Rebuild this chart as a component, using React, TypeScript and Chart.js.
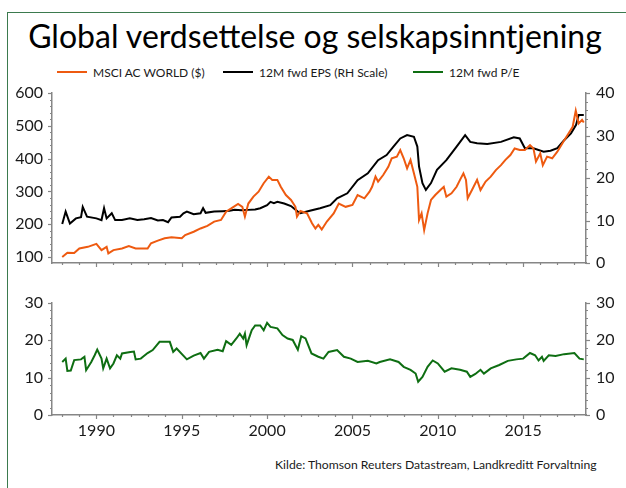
import React, { useEffect, useRef } from 'react';
import { Chart, registerables } from 'chart.js';

Chart.register(...registerables);

// ---- Data ----
const msciYears = [1988.0, 1988.3, 1988.7, 1989.0, 1989.5, 1990.0, 1990.3, 1990.6, 1990.7, 1991.0, 1991.5, 1991.9, 1992.3, 1992.7, 1993.0, 1993.2, 1993.6, 1994.0, 1994.4, 1995.0, 1995.2, 1995.7, 1996.1, 1996.5, 1996.9, 1997.3, 1997.6, 1997.9, 1998.3, 1998.55, 1998.7, 1998.9, 1999.2, 1999.5, 1999.8, 2000.1, 2000.3, 2000.6, 2000.8, 2001.1, 2001.4, 2001.66, 2001.75, 2001.95, 2002.34, 2002.63, 2002.83, 2003.0, 2003.2, 2003.5, 2003.9, 2004.2, 2004.6, 2005.0, 2005.3, 2005.7, 2006.0, 2006.15, 2006.35, 2006.5, 2006.8, 2007.1, 2007.3, 2007.6, 2007.8, 2008.0, 2008.2, 2008.4, 2008.6, 2008.8, 2008.9, 2009.05, 2009.2, 2009.4, 2009.6, 2009.85, 2010.15, 2010.35, 2010.5, 2010.8, 2011.1, 2011.3, 2011.5, 2011.65, 2011.75, 2012.0, 2012.3, 2012.5, 2012.8, 2013.1, 2013.4, 2013.7, 2013.96, 2014.25, 2014.5, 2014.8, 2015.1, 2015.4, 2015.6, 2015.75, 2016.0, 2016.15, 2016.4, 2016.7, 2017.0, 2017.3, 2017.6, 2017.9, 2018.08, 2018.25, 2018.45, 2018.55];
const msciValues = [100, 113, 112, 126, 131, 140, 121, 131, 111, 121, 126, 133, 126, 126, 126, 142, 150, 157, 160, 157, 167, 177, 187, 195, 208, 213, 238, 248, 262, 253, 223, 263, 284, 299, 325, 345, 335, 335, 314, 289, 274, 253, 223, 240, 233, 203, 187, 198, 184, 208, 233, 263, 253, 259, 289, 279, 299, 314, 345, 330, 350, 375, 401, 406, 426, 401, 370, 396, 355, 314, 213, 233, 182, 233, 274, 289, 304, 314, 284, 294, 314, 335, 355, 335, 279, 304, 335, 304, 330, 345, 365, 380, 396, 411, 431, 426, 426, 441, 431, 391, 416, 380, 406, 401, 421, 447, 472, 497, 546, 507, 518, 510];

const epsYears = [1988.0, 1988.2, 1988.45, 1988.8, 1989.1, 1989.2, 1989.45, 1990.0, 1990.3, 1990.45, 1990.6, 1990.9, 1991.1, 1991.5, 1991.96, 1992.4, 1992.8, 1993.2, 1993.6, 1993.9, 1994.2, 1994.4, 1994.9, 1995.1, 1995.3, 1995.7, 1996.1, 1996.25, 1996.4, 1996.9, 1997.4, 1997.8, 1998.1, 1998.5, 1998.9, 1999.3, 1999.6, 2000.0, 2000.2, 2000.4, 2000.6, 2001.0, 2001.4, 2001.8, 2001.95, 2002.5, 2003.1, 2003.7, 2004.1, 2004.7, 2005.3, 2005.9, 2006.5, 2007.0, 2007.4, 2007.8, 2008.2, 2008.6, 2008.8, 2008.9, 2009.1, 2009.3, 2009.6, 2009.95, 2010.5, 2011.1, 2011.6, 2011.9, 2012.3, 2012.9, 2013.7, 2014.45, 2014.8, 2015.1, 2015.6, 2016.2, 2016.6, 2017.0, 2017.4, 2017.8, 2018.1, 2018.25, 2018.55];
const epsValues = [9.2, 12.1, 9.3, 10.5, 10.8, 13.2, 10.9, 10.5, 10.1, 12.9, 10.5, 11.7, 10.1, 10.1, 10.5, 10.1, 10.3, 10.6, 10.0, 10.1, 9.6, 10.7, 10.9, 11.7, 12.1, 11.5, 11.7, 12.9, 11.8, 12.1, 12.2, 12.3, 12.5, 12.4, 12.5, 12.6, 12.9, 13.6, 14.4, 14.1, 14.4, 14.0, 13.4, 12.1, 11.7, 12.3, 12.9, 13.6, 15.2, 16.4, 19.5, 21.1, 24.2, 25.4, 27.4, 29.3, 30.1, 29.7, 27.4, 22.7, 18.8, 17.2, 18.8, 21.9, 24.2, 27.4, 30.1, 28.5, 28.2, 28.0, 28.5, 29.6, 29.3, 27.0, 27.0, 26.2, 26.4, 27.0, 28.9, 30.5, 32.5, 34.8, 34.8];

const peYears = [1988.0, 1988.2, 1988.3, 1988.5, 1988.7, 1989.1, 1989.3, 1989.4, 1989.7, 1989.9, 1990.05, 1990.3, 1990.4, 1990.6, 1990.8, 1991.0, 1991.2, 1991.4, 1991.5, 1991.99, 1992.2, 1992.3, 1992.6, 1993.0, 1993.3, 1993.7, 1994.3, 1994.5, 1994.7, 1995.3, 1995.7, 1996.1, 1996.3, 1996.6, 1997.1, 1997.4, 1997.6, 1997.9, 1998.2, 1998.4, 1998.6, 1998.7, 1998.8, 1999.1, 1999.3, 1999.6, 1999.8, 2000.0, 2000.2, 2000.6, 2000.9, 2001.2, 2001.5, 2001.8, 2002.0, 2002.25, 2002.6, 2003.0, 2003.3, 2003.6, 2004.1, 2004.5, 2004.9, 2005.3, 2005.9, 2006.4, 2006.6, 2007.2, 2007.7, 2008.0, 2008.4, 2008.7, 2008.85, 2009.1, 2009.4, 2009.7, 2010.0, 2010.4, 2010.8, 2011.3, 2011.7, 2011.9, 2012.2, 2012.5, 2012.7, 2013.1, 2013.6, 2014.1, 2014.6, 2015.0, 2015.4, 2015.7, 2015.9, 2016.1, 2016.2, 2016.5, 2016.9, 2017.4, 2018.0, 2018.3, 2018.55];
const peValues = [14.2, 15.1, 11.8, 11.9, 14.7, 14.9, 15.6, 12.0, 14.2, 16.0, 17.5, 15.1, 12.5, 15.1, 12.5, 13.8, 16.0, 15.1, 16.5, 16.9, 17.0, 14.9, 15.1, 16.6, 17.4, 19.6, 19.6, 16.9, 17.8, 14.9, 15.9, 16.6, 15.1, 16.9, 17.5, 17.1, 19.8, 18.8, 20.5, 21.8, 20.5, 21.8, 18.7, 22.7, 24.0, 24.0, 22.7, 24.7, 23.6, 23.2, 21.4, 20.5, 20.1, 17.5, 21.1, 20.5, 16.5, 15.6, 15.1, 16.9, 17.4, 15.6, 15.1, 14.2, 14.5, 13.8, 14.2, 14.9, 14.2, 12.9, 12.1, 11.1, 8.9, 10.2, 12.9, 14.6, 13.8, 11.6, 12.5, 12.1, 11.6, 10.2, 11.0, 12.1, 11.1, 12.5, 13.4, 14.5, 14.9, 15.1, 16.6, 16.0, 14.6, 15.6, 14.5, 16.0, 15.8, 16.3, 16.6, 15.1, 14.9];

const xTickYears = [1990, 1995, 2000, 2005, 2010, 2015];
const msciTicks = [100, 200, 300, 400, 500, 600];
const epsTicks = [0, 10, 20, 30, 40];
const peTicks = [0, 10, 20, 30];

const titleText = 'Global verdsettelse og selskapsinntjening';
const legendLabels = ['MSCI AC WORLD ($)', '12M fwd EPS (RH Scale)', '12M fwd P/E'];
const sourceText = 'Kilde: Thomson Reuters Datastream, Landkreditt Forvaltning';

// ---- Styles ----
const ORANGE = '#EE5A10';
const BLACK = '#000000';
const GREEN = '#0E6E12';
const AXIS = '#868686';
const TEXT = '#1a1a1a';
const FONT = 'Lato, "Open Sans", sans-serif';
const X_MIN = 1987.4;
const X_MAX = 2018.68;

const toPoints = (xs: number[], ys: number[]) => xs.map((x, i) => ({ x, y: ys[i] }));

const tickMarksPlugin = {
  id: 'tickMarks',
  afterDraw(chart: any, _args: any, opts: any) {
    const ctx = chart.ctx;
    ctx.save();
    ctx.strokeStyle = AXIS;
    ctx.lineWidth = 1.2;
    for (const spec of opts.specs || []) {
      const scale = chart.scales[spec.id];
      if (!scale) continue;
      const n = Math.round((spec.to - spec.from) / spec.step);
      for (let i = 0; i <= n; i++) {
        const v = spec.from + i * spec.step;
        const r = v / spec.major;
        const isMajor = Math.abs(r - Math.round(r)) < 1e-6;
        const len = isMajor ? 4 : 2;
        const p = Math.round(scale.getPixelForValue(v)) + 0.5;
        ctx.beginPath();
        if (scale.isHorizontal()) {
          const y = scale.top;
          ctx.moveTo(p, y);
          ctx.lineTo(p, y + len);
        } else if (scale.position === 'left') {
          const x = scale.right;
          ctx.moveTo(x, p);
          ctx.lineTo(x - len, p);
        } else {
          const x = scale.left;
          ctx.moveTo(x, p);
          ctx.lineTo(x + len, p);
        }
        ctx.stroke();
      }
    }
    ctx.restore();
  },
};

const yAxisBase = (position: 'left' | 'right', min: number, max: number, ticks: number[], width: number) => ({
  type: 'linear',
  position,
  min,
  max,
  afterBuildTicks: (s: any) => {
    s.ticks = ticks.map((v) => ({ value: v }));
  },
  afterFit: (s: any) => {
    s.width = width;
    s.paddingTop = 0;
    s.paddingBottom = 0;
  },
  grid: { display: false, drawTicks: false },
  border: { display: true, color: AXIS, width: 1.5 },
  ticks: {
    color: TEXT,
    font: { family: FONT, size: 16 },
    padding: position === 'left' ? 9 : 10,
    callback: (v: any) => String(v),
  },
});

const xAxis = (showLabels: boolean, height: number) => ({
  type: 'linear',
  position: 'bottom',
  min: X_MIN,
  max: X_MAX,
  afterBuildTicks: (s: any) => {
    s.ticks = xTickYears.map((v) => ({ value: v }));
  },
  afterFit: (s: any) => {
    s.height = height;
  },
  grid: { display: false, drawTicks: false },
  border: { display: true, color: AXIS, width: 1.5 },
  ticks: {
    display: showLabels,
    color: TEXT,
    font: { family: FONT, size: 16 },
    padding: 6,
    maxRotation: 0,
    autoSkip: false,
    callback: (v: any) => String(v),
  },
});

export default function App() {
  const topRef = useRef<HTMLCanvasElement | null>(null);
  const botRef = useRef<HTMLCanvasElement | null>(null);

  useEffect(() => {
    const common = {
      responsive: false,
      maintainAspectRatio: false,
      animation: false,
      devicePixelRatio: 1,
      events: [],
    };
    const top = new Chart(topRef.current as HTMLCanvasElement, {
      type: 'line',
      data: {
        datasets: [
          {
            label: legendLabels[0],
            data: toPoints(msciYears, msciValues),
            borderColor: ORANGE,
            borderWidth: 2,
            pointRadius: 0,
            yAxisID: 'yL',
            order: 1,
          },
          {
            label: legendLabels[1],
            data: toPoints(epsYears, epsValues),
            borderColor: BLACK,
            borderWidth: 2,
            pointRadius: 0,
            yAxisID: 'yR',
            order: 2,
          },
        ],
      },
      options: {
        ...common,
        layout: { padding: { left: 8, right: 0, top: 15, bottom: 0 } },
        plugins: {
          legend: { display: false },
          tooltip: { enabled: false },
          tickMarks: {
            specs: [
              { id: 'x', from: 1988, to: 2018, step: 1, major: 5 },
              { id: 'yL', from: 100, to: 600, step: 20, major: 100 },
              { id: 'yR', from: 0, to: 40, step: 2, major: 10 },
            ],
          },
        },
        scales: {
          x: xAxis(false, 12),
          yL: yAxisBase('left', 81.7, 600, msciTicks, 44),
          yR: yAxisBase('right', 0, 40, epsTicks, 40),
        },
      } as any,
      plugins: [tickMarksPlugin],
    } as any);

    const bot = new Chart(botRef.current as HTMLCanvasElement, {
      type: 'line',
      data: {
        datasets: [
          {
            label: legendLabels[2],
            data: toPoints(peYears, peValues),
            borderColor: GREEN,
            borderWidth: 2,
            pointRadius: 0,
            yAxisID: 'yL',
          },
        ],
      },
      options: {
        ...common,
        layout: { padding: { left: 8, right: 0, top: 15, bottom: 0 } },
        plugins: {
          legend: { display: false },
          tooltip: { enabled: false },
          tickMarks: {
            specs: [
              { id: 'x', from: 1988, to: 2018, step: 1, major: 5 },
              { id: 'yL', from: 0, to: 30, step: 2, major: 10 },
              { id: 'yR', from: 0, to: 30, step: 2, major: 10 },
            ],
          },
        },
        scales: {
          x: xAxis(true, 30),
          yL: yAxisBase('left', 0, 30, peTicks, 44),
          yR: yAxisBase('right', 0, 30, peTicks, 40),
        },
      } as any,
      plugins: [tickMarksPlugin],
    } as any);

    return () => {
      top.destroy();
      bot.destroy();
    };
  }, []);

  const legendColors = [ORANGE, BLACK, GREEN];
  const legendLefts = [57, 223, 413];

  return (
    <div
      style={{
        position: 'fixed',
        left: 0,
        top: 0,
        width: 626,
        height: 488,
        background: '#ffffff',
        overflow: 'hidden',
        fontFamily: FONT,
      }}
    >
      <div
        style={{
          position: 'absolute',
          left: 7,
          top: 12,
          width: 800,
          height: 800,
          borderLeft: '1.5px solid #3B7A4E',
          borderTop: '1.5px solid #3B7A4E',
        }}
      />
      <div
        style={{
          position: 'absolute',
          left: 0,
          top: 15,
          width: 630,
          textAlign: 'center',
          fontSize: 32,
          lineHeight: '42px',
          color: '#000',
          whiteSpace: 'nowrap',
        }}
      >
        {titleText}
      </div>
      {legendLabels.map((lab, i) => (
        <div
          key={lab}
          style={{
            position: 'absolute',
            left: legendLefts[i],
            top: 64,
            height: 16,
            display: 'flex',
            alignItems: 'center',
            whiteSpace: 'nowrap',
          }}
        >
          <div style={{ width: 30, height: 2, background: legendColors[i], marginRight: 6 }} />
          <span style={{ fontSize: 12, color: TEXT }}>{lab}</span>
        </div>
      ))}
      <canvas
        ref={topRef}
        width={626}
        height={197}
        style={{ position: 'absolute', left: 0, top: 78, width: 626, height: 197 }}
      />
      <canvas
        ref={botRef}
        width={626}
        height={157}
        style={{ position: 'absolute', left: 0, top: 288, width: 626, height: 157 }}
      />
      <div
        style={{
          position: 'absolute',
          left: 275,
          top: 457,
          fontSize: 12.2,
          color: TEXT,
          whiteSpace: 'nowrap',
        }}
      >
        {sourceText}
      </div>
    </div>
  );
}
